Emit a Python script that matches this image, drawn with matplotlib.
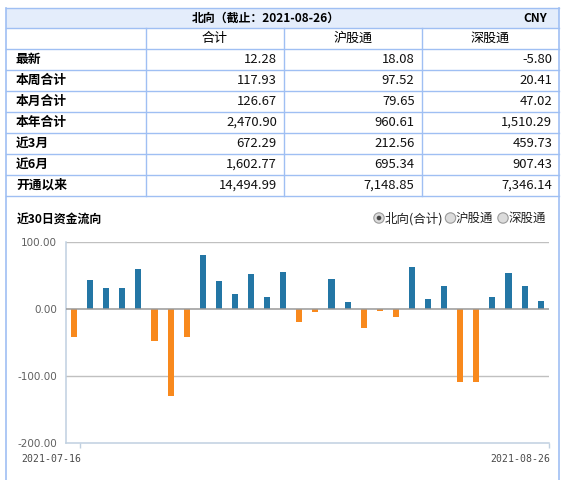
import numpy as np
import matplotlib
matplotlib.use('Agg')
import matplotlib.pyplot as plt
from matplotlib.patches import Rectangle, Circle

plt.rcParams['font.family'] = ['Noto Sans CJK SC', 'DejaVu Sans']

# table data
title = '北向（截止：2021-08-26）'
currency = 'CNY'
col_names = ['合计', '沪股通', '深股通']
row_names = ['最新', '本周合计', '本月合计', '本年合计', '近3月', '近6月', '开通以来']
total = ['12.28', '117.93', '126.67', '2,470.90', '672.29', '1,602.77', '14,494.99']
sh_connect = ['18.08', '97.52', '79.65', '960.61', '212.56', '695.34', '7,148.85']
sz_connect = ['-5.80', '20.41', '47.02', '1,510.29', '459.73', '907.43', '7,346.14']

# chart data: last 30 days net flow (northbound total)
chart_title = '近30日资金流向'
radio_labels = ['北向(合计)', '沪股通', '深股通']
flow = [-41, 43, 31.5, 31.5, 59.5, -47, -129, -41, 80, 42,
        22.5, 52, 18, 55, -19, -4, 45, 10.5, -28, -3,
        -11.5, 62.5, 15, 34.5, -108, -108, 18, 53.5, 34.5, 12.28]
first_date = '2021-07-16'
last_date = '2021-08-26'
yticks = [100, 0, -100, -200]

border = '#9fbff3'
blue = '#2376a5'
orange = '#f8891d'

fig = plt.figure(figsize=(5.64, 4.8), dpi=100)
bg = fig.add_axes([0, 0, 1, 1])
bg.set_xlim(0, 564)
bg.set_ylim(480, 0)
bg.axis('off')

left, right = 5.5, 559.3
top = 8
head_h = 20.3
row_h = 20.9
col_x = [left, 145.7, 283.8, 421.6, right]

bg.add_patch(Rectangle((left, top), right - left, head_h, facecolor='#e4edfb', edgecolor='none'))
ys = [top, top + head_h] + [top + head_h + row_h * (i + 1) for i in range(len(row_names) + 1)]
for y in ys:
    bg.plot([left, right], [y, y], color=border, lw=1)
for x in col_x[1:-1]:
    bg.plot([x, x], [ys[1], ys[-1]], color=border, lw=1)
bg.plot([left, left], [top, 480], color=border, lw=1.2)
bg.plot([right, right], [top, 480], color=border, lw=1.2)

bg.text(266, top + head_h / 2, title, ha='center', va='center', fontsize=8.6, fontweight='bold', color='#000')
bg.text(547, top + head_h / 2, currency, ha='right', va='center', fontsize=8.6, fontweight='bold', color='#000')

for j, name in enumerate(col_names):
    cx = (col_x[j + 1] + col_x[j + 2]) / 2
    bg.text(cx, (ys[1] + ys[2]) / 2, name, ha='center', va='center', fontsize=9.4, color='#000')

cols = [total, sh_connect, sz_connect]
for i, name in enumerate(row_names):
    cy = (ys[i + 2] + ys[i + 3]) / 2
    bg.text(16, cy, name, ha='left', va='center', fontsize=9.2, color='#000', fontweight='bold')
    for j, col in enumerate(cols):
        bg.text(col_x[j + 2] - 7, cy, col[i], ha='right', va='center', fontsize=9.4, color='#111')

# chart header
bg.text(17, 219, chart_title, ha='left', va='center', fontsize=8.6, fontweight='bold', color='#000')
radio_x = [379, 450.5, 503]
for k, lab in enumerate(radio_labels):
    bg.add_patch(Circle((radio_x[k], 218), 5.2, facecolor='#dcdcdc', edgecolor='#9a9a9a', lw=0.8))
    if k == 0:
        bg.add_patch(Circle((radio_x[k], 218), 2.3, facecolor='#444', edgecolor='none'))
    bg.text(radio_x[k] + 5.5, 218.5, lab, ha='left', va='center', fontsize=9, color='#222')

# bar chart
ax = fig.add_axes([66 / 564, (480 - 443.3) / 480, (548.7 - 66) / 564, (443.3 - 242) / 480])
x = np.arange(len(flow))
vals = np.array(flow)
colors = [blue if v >= 0 else orange for v in vals]
ax.bar(x, vals, width=0.38, color=colors, zorder=3)
ax.set_xlim(-0.5, len(flow) - 0.5)
ax.set_ylim(-200, 100)

for v in [100, -100]:
    ax.axhline(v, color='#c0c0c0', lw=1, zorder=1)
ax.axhline(0, color='#999999', lw=1.1, zorder=4)

for s in ['top', 'right']:
    ax.spines[s].set_visible(False)
for s in ['left', 'bottom']:
    ax.spines[s].set_color('#c0d0e0')
    ax.spines[s].set_linewidth(1.1)

ax.set_yticks(yticks)
ax.set_yticklabels(['%.2f' % t for t in yticks], family='DejaVu Sans', fontsize=7.5, color='#606060')
ax.tick_params(axis='y', length=0, pad=6.5)

ax.set_xticks([0.37, len(flow) - 0.5])
ax.set_xticklabels([first_date, last_date], family='DejaVu Sans Mono', fontsize=7.1, color='#4a4a4a', ha='right')
ax.tick_params(axis='x', length=3.6, color='#c0d0e0', width=1, pad=4)
offset = matplotlib.transforms.ScaledTranslation(1.5 / 100, 0, fig.dpi_scale_trans)
for lbl in ax.get_xticklabels():
    lbl.set_transform(lbl.get_transform() + offset)

fig.savefig('out.png', dpi=100)
